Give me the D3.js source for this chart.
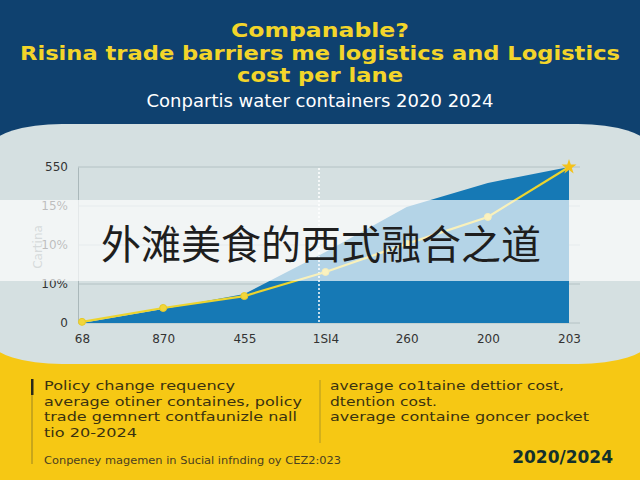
<!DOCTYPE html>
<html>
<head>
<meta charset="utf-8">
<script src="https://cdn.jsdelivr.net/npm/d3@7"></script>
<style>
  html, body { margin: 0; padding: 0; background: #0f416f; }
  svg { display: block; }
</style>
</head>
<body>
<div id="chart"></div>
<script>
// data
const categories = ['68', '870', '455', '1SI4', '260', '200', '203']
const areaValues = [0, 49, 102, 250, 409, 494, 550]
const lineValues = [4, 53, 95, 180, 279, 374, 550]
const yTicks = [0, 137.5, 275, 412.5, 550]
const yTickLabels = ['0', '10%', '10%', '15%', '550']

const titleLines = ['Companable?', 'Risina trade barriers me logistics and Logistics', 'cost per lane']
const titleWidths = [178, 600, 166]
const subtitle = 'Conpartis water containers 2020 2024'
const leftNotes = ['Policy change requency', 'average otiner containes, policy', 'trade gemnert contfaunizle nall', 'tio 20-2024']
const leftWidths = [191, 258, 253, 93]
const rightNotes = ['average co1taine dettior cost,', 'dtention cost.', 'average containe goncer pocket']
const rightWidths = [234, 107, 259]
const footNote = 'Conpeney magemen in Sucial infnding oy CEZ2:023'
const yearLabel = '2020/2024'
const bannerText = '外滩美食的西式融合之道'

const width = 640, height = 480

let svg = d3.select('#chart')
    .append('svg')
    .attr('width', width)
    .attr('height', height)

// backgrounds
svg.append('rect').attr('width', width).attr('height', height).attr('fill', '#f6c814')
svg.append('rect').attr('width', width).attr('height', 250).attr('fill', '#0f416f')
svg.append('rect')
    .attr('x', -8).attr('y', 124)
    .attr('width', 656).attr('height', 240)
    .attr('rx', 70).attr('ry', 22)
    .attr('fill', '#d5e0e1')

// title
svg.selectAll('.title')
    .data(titleLines)
    .enter()
    .append('text')
    .attr('class', 'title')
    .attr('x', 320)
    .attr('y', (d, i) => 37 + i * 22.5)
    .attr('text-anchor', 'middle')
    .attr('font-family', 'DejaVu Sans')
    .attr('font-weight', 'bold')
    .attr('font-size', 19.5)
    .attr('textLength', (d, i) => titleWidths[i])
    .attr('lengthAdjust', 'spacingAndGlyphs')
    .attr('fill', '#f3d52a')
    .text(d => d)

svg.append('text')
    .attr('x', 320).attr('y', 107)
    .attr('text-anchor', 'middle')
    .attr('font-family', 'DejaVu Sans')
    .attr('font-size', 17)
    .attr('textLength', 347)
    .attr('lengthAdjust', 'spacingAndGlyphs')
    .attr('fill', '#ffffff')
    .text(subtitle)

// chart
let x = d3.scalePoint().domain(categories).range([82, 569])
let y = d3.scaleLinear().domain([0, 550]).range([323, 167])

let g = svg.append('g')

g.selectAll('.grid')
    .data(yTicks)
    .enter()
    .append('line')
    .attr('x1', 78).attr('x2', 580)
    .attr('y1', d => y(d)).attr('y2', d => y(d))
    .attr('stroke', '#b4c2c4')
    .attr('stroke-width', 1)

let yAxis = g.append('g')
    .attr('transform', 'translate(78,0)')
    .call(d3.axisLeft(y).tickValues(yTicks).tickFormat((d, i) => yTickLabels[i]).tickSize(0).tickPadding(10))
yAxis.select('.domain').attr('stroke', '#aab8ba')
yAxis.selectAll('text')
    .attr('font-family', 'DejaVu Sans')
    .attr('font-size', 12)
    .attr('fill', '#333')

let xAxis = g.append('g')
    .attr('transform', 'translate(0,323)')
    .call(d3.axisBottom(x).tickSize(0).tickPadding(11))
xAxis.select('.domain').remove()
xAxis.selectAll('text')
    .attr('font-family', 'DejaVu Sans')
    .attr('font-size', 12)
    .attr('fill', '#333')

g.append('text')
    .attr('transform', 'translate(42,247) rotate(-90)')
    .attr('text-anchor', 'middle')
    .attr('font-family', 'DejaVu Sans')
    .attr('font-size', 12)
    .attr('fill', '#7f8c8e')
    .text('Cartina')

let area = d3.area()
    .x((d, i) => x(categories[i]))
    .y0(y(0))
    .y1(d => y(d))

g.append('path')
    .datum(areaValues)
    .attr('d', area)
    .attr('fill', '#1679b5')

g.append('line')
    .attr('x1', 319).attr('x2', 319)
    .attr('y1', 168).attr('y2', 323)
    .attr('stroke', '#ffffff')
    .attr('stroke-width', 1.5)
    .attr('stroke-dasharray', '2,2')

let line = d3.line()
    .x((d, i) => x(categories[i]))
    .y(d => y(d))

g.append('path')
    .datum(lineValues)
    .attr('d', line)
    .attr('fill', 'none')
    .attr('stroke', '#ecd42e')
    .attr('stroke-width', 2.2)

g.selectAll('.dot')
    .data(lineValues.slice(0, -1))
    .enter()
    .append('circle')
    .attr('cx', (d, i) => x(categories[i]))
    .attr('cy', d => y(d))
    .attr('r', 3.5)
    .attr('fill', '#f2d63a')
    .attr('stroke', '#e6c92a')

g.append('path')
    .attr('d', d3.symbol().type(d3.symbolStar).size(70))
    .attr('transform', `translate(${x(categories[6])},${y(lineValues[6])})`)
    .attr('fill', '#f4c21a')

// banner overlay
svg.append('rect')
    .attr('x', 0).attr('y', 200)
    .attr('width', width).attr('height', 81)
    .attr('fill', '#ffffff')
    .attr('opacity', 0.68)

svg.append('text')
    .attr('x', 321).attr('y', 259)
    .attr('text-anchor', 'middle')
    .attr('font-family', 'Noto Sans CJK SC')
    .attr('font-size', 40)
    .attr('fill', '#1e1e1e')
    .text(bannerText)

// bottom notes
svg.append('rect').attr('x', 31).attr('y', 379).attr('width', 2.5).attr('height', 16).attr('fill', '#2a2a1a')
svg.append('line').attr('x1', 32).attr('x2', 32).attr('y1', 395).attr('y2', 464)
    .attr('stroke', '#9a8420').attr('stroke-width', 1)
svg.append('line').attr('x1', 320).attr('x2', 320).attr('y1', 380).attr('y2', 443)
    .attr('stroke', '#b09822').attr('stroke-width', 1)

svg.selectAll('.lnote')
    .data(leftNotes)
    .enter()
    .append('text')
    .attr('x', 44)
    .attr('y', (d, i) => 390 + i * 15.5)
    .attr('font-family', 'DejaVu Sans')
    .attr('font-size', 13)
    .attr('textLength', (d, i) => leftWidths[i])
    .attr('lengthAdjust', 'spacingAndGlyphs')
    .attr('fill', '#3a3210')
    .text(d => d)

svg.selectAll('.rnote')
    .data(rightNotes)
    .enter()
    .append('text')
    .attr('x', 330)
    .attr('y', (d, i) => 390 + i * 15.5)
    .attr('font-family', 'DejaVu Sans')
    .attr('font-size', 13)
    .attr('textLength', (d, i) => rightWidths[i])
    .attr('lengthAdjust', 'spacingAndGlyphs')
    .attr('fill', '#3a3210')
    .text(d => d)

svg.append('text')
    .attr('x', 44).attr('y', 464)
    .attr('font-family', 'DejaVu Sans')
    .attr('font-size', 10)
    .attr('textLength', 297)
    .attr('lengthAdjust', 'spacingAndGlyphs')
    .attr('fill', '#4a4020')
    .text(footNote)

svg.append('text')
    .attr('x', 613).attr('y', 463)
    .attr('text-anchor', 'end')
    .attr('font-family', 'DejaVu Sans')
    .attr('font-weight', 'bold')
    .attr('font-size', 17)
    .attr('fill', '#13302c')
    .text(yearLabel)
</script>
</body>
</html>
